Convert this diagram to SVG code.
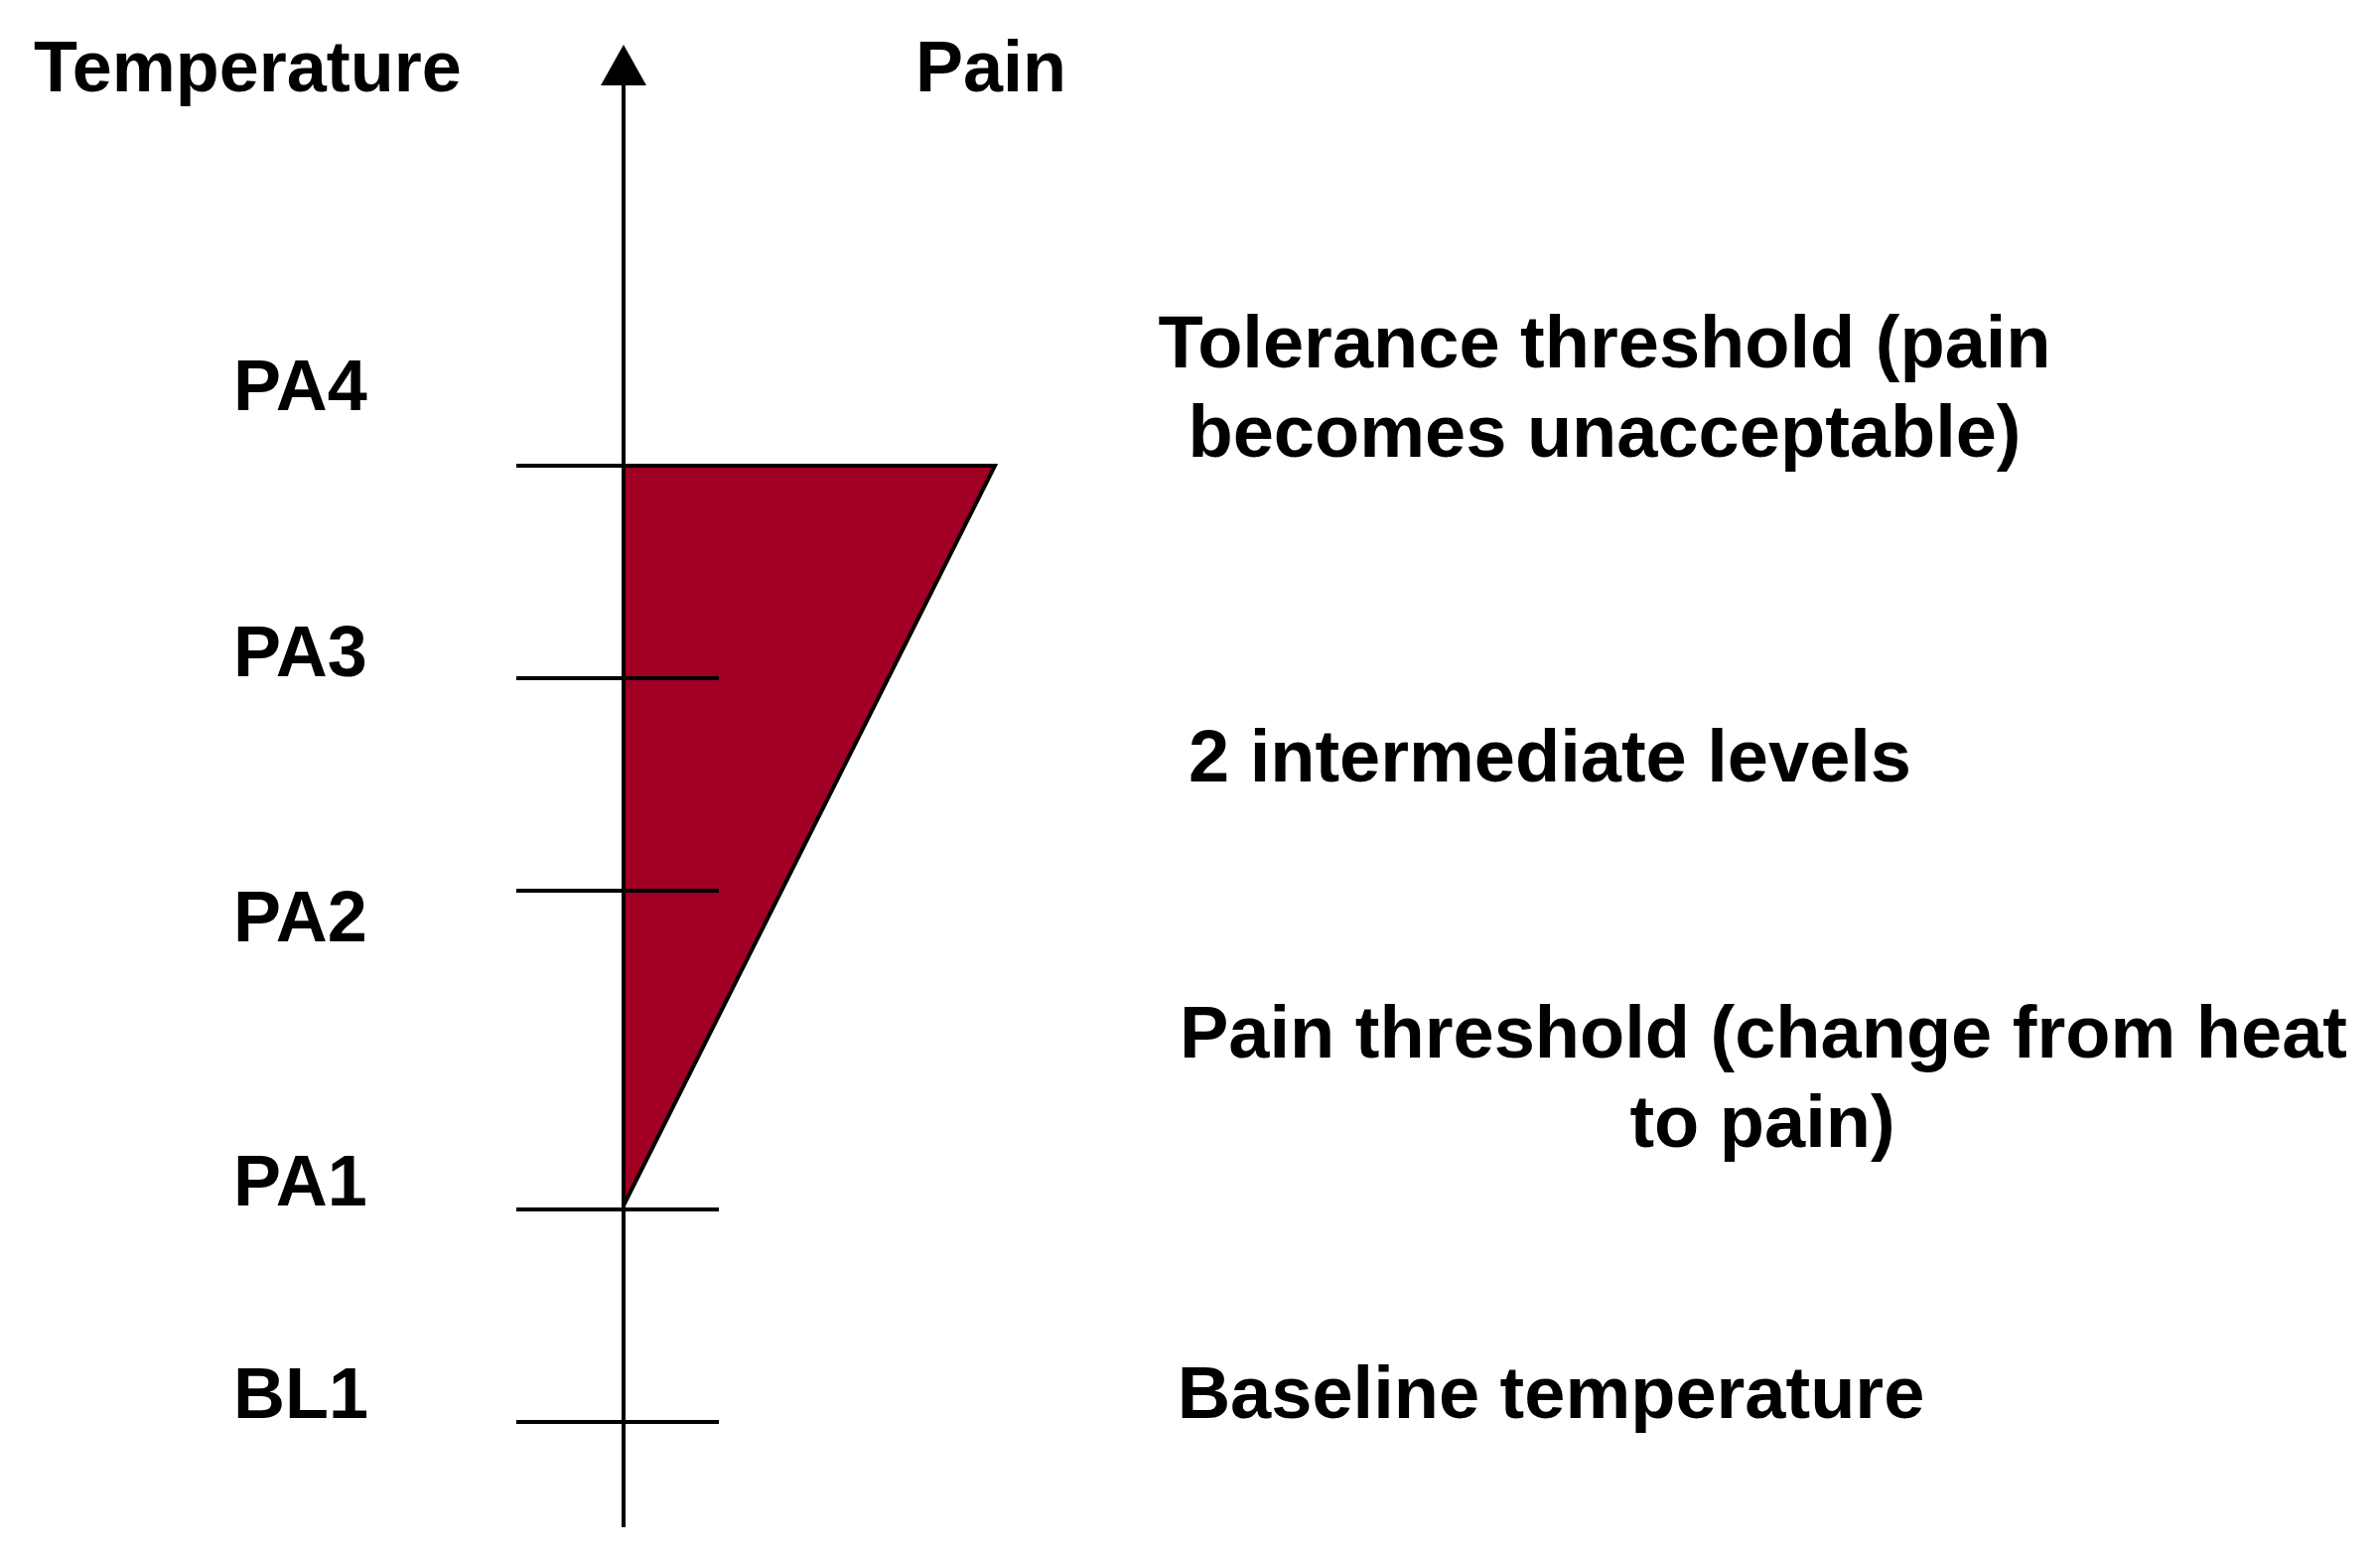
<svg xmlns="http://www.w3.org/2000/svg" width="2397" height="1568" viewBox="0 0 2397 1568">
<style>
text{font-family:"Liberation Sans",Arial,sans-serif;font-weight:bold;fill:#000}
.l{font-size:72px}
.r{font-size:74px;text-anchor:middle}
.tick{stroke:#000;stroke-width:4;fill:none}
</style>
<rect width="2397" height="1568" fill="#fff"/>
<g id="triangle">
<polygon points="628,469 1002,469 628,1214" fill="#A10024" stroke="#000" stroke-width="4" stroke-linejoin="miter"/>
</g>
<g id="connectors">
<line class="tick" x1="628" y1="1538" x2="628" y2="80"/>
<polygon points="628,45 605,86 651,86" fill="#000"/>
<line class="tick" x1="520" y1="469" x2="1002" y2="469"/>
<line class="tick" x1="520" y1="683" x2="724" y2="683"/>
<line class="tick" x1="520" y1="897" x2="724" y2="897"/>
<line class="tick" x1="520" y1="1218" x2="724" y2="1218"/>
<line class="tick" x1="520" y1="1432" x2="724" y2="1432"/>
</g>
<g id="axis-labels">
<text class="l" x="34" y="92">Temperature</text>
<text class="l" x="922" y="92">Pain</text>
</g>
<g id="level-labels">
<text class="l" x="235" y="413">PA4</text>
<text class="l" x="235" y="681">PA3</text>
<text class="l" x="235" y="948">PA2</text>
<text class="l" x="235" y="1214">PA1</text>
<text class="l" x="235" y="1428">BL1</text>
</g>
<g id="descriptions">
<text class="r" x="1616" y="370">Tolerance threshold (pain</text>
<text class="r" x="1616" y="460">becomes unacceptable)</text>
<text class="r" x="1561" y="787">2 intermediate levels</text>
<text class="r" x="1776" y="1065">Pain threshold (change from heat</text>
<text class="r" x="1775" y="1155">to pain)</text>
<text class="r" x="1562" y="1428">Baseline temperature</text>
</g>
</svg>
